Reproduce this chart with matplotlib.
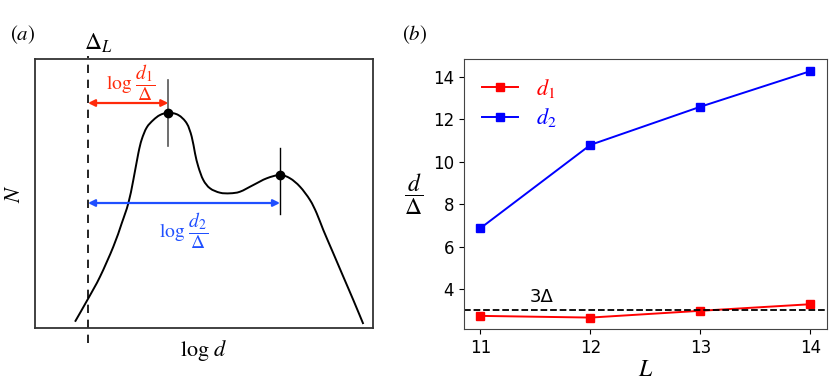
import matplotlib
matplotlib.use("Agg")
import matplotlib.pyplot as plt
from matplotlib.path import Path
from matplotlib.patches import PathPatch

plt.rcParams['mathtext.fontset'] = 'stix'

# ---- Panel (a): schematic distribution (arbitrary units)
logd_a = [40, 53.3, 65, 78.3, 86.7, 93.3, 98.3, 103.3, 106.7, 111.7, 118.3, 125,
          133.3, 143.3, 151.7, 156.7, 160, 163.3, 168.3, 175, 185, 195, 205, 218.3,
          231.7, 245, 255, 265, 275, 281.7, 288.3, 298.3, 308.3, 318.3, 328.3]
N_a = [6.3, 29.7, 51.3, 81.3, 104.7, 124.7, 148, 174.7, 188.5, 200.5, 208, 213,
       215.3, 213, 204.7, 191.3, 174.7, 161.3, 148, 139.7, 135.3, 134.7, 136.3, 143,
       149.7, 153, 149.7, 141.3, 128, 114.7, 98, 74.7, 51.3, 28, 4]
delta_L = 53
peak1 = (133.3, 215.3)
peak2 = (245, 153)

# ---- Panel (b)
L_vals = [11, 12, 13, 14]
d1 = [2.73, 2.65, 2.97, 3.28]
d2 = [6.87, 10.8, 12.6, 14.28]
threshold = 3.0

fig = plt.figure(figsize=(8.3, 3.89), dpi=100)

axa = fig.add_axes([0.0422, 0.1568, 0.4072, 0.6915])
axa.set_xlim(0, 338)
axa.set_ylim(0, 269)
axa.set_xticks([])
axa.set_yticks([])
for s in axa.spines.values():
    s.set_color('#333333')
    s.set_linewidth(1.3)

# smooth curve through the read points, drawn as Bezier segments
pts = list(zip(logd_a, N_a))
n = len(pts)
verts = [pts[0]]
codes = [Path.MOVETO]
for i in range(n - 1):
    p0 = pts[i - 1] if i > 0 else pts[i]
    p1 = pts[i]
    p2 = pts[i + 1]
    p3 = pts[i + 2] if i + 2 < n else pts[i + 1]
    c1 = (p1[0] + (p2[0] - p0[0]) / 6, p1[1] + (p2[1] - p0[1]) / 6)
    c2 = (p2[0] - (p3[0] - p1[0]) / 6, p2[1] - (p3[1] - p1[1]) / 6)
    verts += [c1, c2, p2]
    codes += [Path.CURVE4] * 3
axa.add_patch(PathPatch(Path(verts, codes), fill=False, edgecolor='black', lw=1.4))

axa.plot([delta_L, delta_L], [-15, 272], color='black', lw=1.2, ls=(0, (5, 4)), clip_on=False)
axa.plot([peak1[0], peak1[0]], [peak1[1] - 33, peak1[1] + 33], color='#555555', lw=1.2)
axa.plot([peak2[0], peak2[0]], [peak2[1] - 39, peak2[1] + 27], color='black', lw=1.0)
axa.plot([peak1[0], peak2[0]], [peak1[1], peak2[1]], 'o', color='black', ms=6)

red = '#ff2a0a'
blue = '#1f4fff'
axa.annotate('', xy=(peak1[0], 225), xytext=(delta_L, 225),
             arrowprops=dict(arrowstyle='<|-|>', color=red, lw=1.6, shrinkA=0, shrinkB=0,
                             mutation_scale=10))
axa.annotate('', xy=(peak2[0], 125), xytext=(delta_L, 125),
             arrowprops=dict(arrowstyle='<|-|>', color=blue, lw=1.6, shrinkA=0, shrinkB=0,
                             mutation_scale=10))
axa.text(96, 245, r'$\log\,\dfrac{d_1}{\Delta}$', color=red, fontsize=14, ha='center', va='center')
axa.text(148.5, 97, r'$\log\,\dfrac{d_2}{\Delta}$', color=blue, fontsize=14, ha='center', va='center')
axa.text(63, 285, r'$\Delta_L$', fontsize=17, ha='center', va='center', clip_on=False)
axa.set_xlabel(r'$\log\, d$', fontsize=16, labelpad=7)
axa.set_ylabel(r'$N$', fontsize=16, labelpad=8)
fig.text(0.027, 0.91, r'$(a)$', fontsize=15, ha='center', va='center')

# ---- Panel (b)
axb = fig.add_axes([0.559, 0.1542, 0.4373, 0.694])
axb.plot(L_vals, d1, '-s', color='#ff0000', lw=1.4, ms=5.5, label=r'$d_1$')
axb.plot(L_vals, d2, '-s', color='#0000ff', lw=1.4, ms=5.5, label=r'$d_2$')
axb.axhline(threshold, color='black', ls='--', lw=1.3)
axb.text(11.56, 3.6, '3Δ', fontsize=13, ha='center', va='center')
axb.set_xlim(10.85, 14.15)
axb.set_ylim(2.11, 14.85)
axb.set_xticks(L_vals)
axb.set_yticks([4, 6, 8, 10, 12, 14])
axb.tick_params(labelsize=12)
for s in axb.spines.values():
    s.set_color('#444444')
axb.set_xlabel(r'$L$', fontsize=17, labelpad=0)
axb.set_ylabel(r'$\dfrac{d}{\Delta}$', fontsize=17, rotation=0, labelpad=14, va='center')
leg = axb.legend(loc='upper left', frameon=False, fontsize=16, handlelength=1.65,
                 handletextpad=0.8, borderaxespad=0.4, labelspacing=0.3)
for t, c in zip(leg.get_texts(), ['#ff0000', '#0000ff']):
    t.set_color(c)
fig.text(0.5, 0.91, r'$(b)$', fontsize=15, ha='center', va='center')

fig.savefig('out.png', dpi=100)
